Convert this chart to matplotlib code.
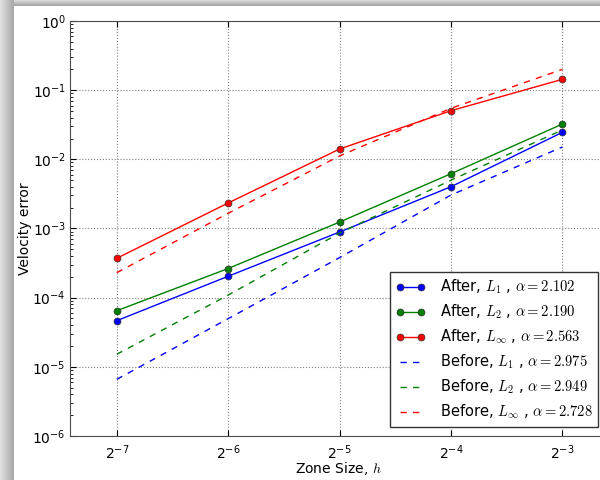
import numpy as np
import matplotlib
matplotlib.use('Agg')
import matplotlib.pyplot as plt
from matplotlib.ticker import LogLocator, LogFormatterSciNotation, NullLocator

plt.rcParams['mathtext.fontset'] = 'cm'
plt.rcParams['font.family'] = 'DejaVu Sans'

# zone sizes h = 2^-7 .. 2^-3
h = [2.0**-7, 2.0**-6, 2.0**-5, 2.0**-4, 2.0**-3]

after_l1 = [4.65e-5, 2.04e-4, 8.9e-4, 4.02e-3, 0.0246]
after_l2 = [6.48e-5, 2.64e-4, 1.24e-3, 6.2e-3, 0.0324]
after_linf = [3.71e-4, 2.34e-3, 1.41e-2, 0.0505, 0.1435]

before_l1 = [6.6e-6, 4.97e-5, 3.80e-4, 3.05e-3, 0.0151]
before_l2 = [1.52e-5, 1.09e-4, 8.6e-4, 5.0e-3, 0.0266]
before_linf = [2.3e-4, 1.66e-3, 0.0112, 0.0547, 0.2]

labels_after = [r'After, $L_1$ , $\alpha=2.102$',
                r'After, $L_2$ , $\alpha=2.190$',
                r'After, $L_\infty$ , $\alpha=2.563$']
labels_before = [r'Before, $L_1$ , $\alpha=2.975$',
                 r'Before, $L_2$ , $\alpha=2.949$',
                 r'Before, $L_\infty$ , $\alpha=2.728$']
colors = ['b', 'g', 'r']

fig = plt.figure(figsize=(6, 4.8), dpi=100)

# page shadow behind the plot
bg = fig.add_axes([0, 0, 1, 1], zorder=-10)
img = np.ones((480, 600))
xs = np.arange(14)
img[:, :14] = (0.88 - 0.22 * xs / 13)[None, :]
ys = np.arange(6)
img[:6, 14:] = (0.85 - 0.2 * ys / 5)[:, None]
bg.imshow(img, cmap='gray', vmin=0, vmax=1, aspect='auto', interpolation='nearest')
bg.axis('off')

ax = fig.add_axes([70 / 600, 44 / 480, 537 / 600, 415 / 480])

for ya, lab, c in zip([after_l1, after_l2, after_linf], labels_after, colors):
    ax.plot(h, ya, '-o', color=c, label=lab, lw=1, markersize=5,
            markeredgecolor='0.2', markeredgewidth=0.5)
for yb, lab, c in zip([before_l1, before_l2, before_linf], labels_before, colors):
    ax.plot(h, yb, '--', color=c, label=lab, lw=1, dashes=(4.5, 4.5))

ax.set_xscale('log', base=2)
ax.set_yscale('log')
ax.set_xlim(2.0**-7.42, 2.0**-2.6)
ax.set_ylim(1e-6, 1)
ax.xaxis.set_major_locator(LogLocator(base=2))
ax.xaxis.set_major_formatter(LogFormatterSciNotation(base=2))
ax.xaxis.set_minor_locator(NullLocator())

ax.tick_params(which='both', direction='in', top=True, right=True, labelsize=10)
ax.tick_params(which='major', length=4)
ax.tick_params(which='minor', length=2)
ax.tick_params(axis='x', pad=5)
ax.tick_params(axis='y', pad=3)
ax.grid(True, which='major', linestyle=':', color='0.5', lw=0.8)

for s in ax.spines.values():
    s.set_color('0.3')

ax.set_xlabel(r'Zone Size, $h$', fontsize=10)
ax.set_ylabel('Velocity error', fontsize=10)
ax.xaxis.set_label_coords(0.5, -0.057)
ax.yaxis.set_label_coords(-0.07, 0.5)

leg = ax.legend(loc='lower right', fontsize=10.5, numpoints=2, fancybox=False,
                framealpha=1, edgecolor='0.2', labelspacing=0.45,
                handlelength=2.0, handletextpad=1.0, borderaxespad=0.6)
leg.get_frame().set_linewidth(1)

fig.savefig('out.png', dpi=100)
